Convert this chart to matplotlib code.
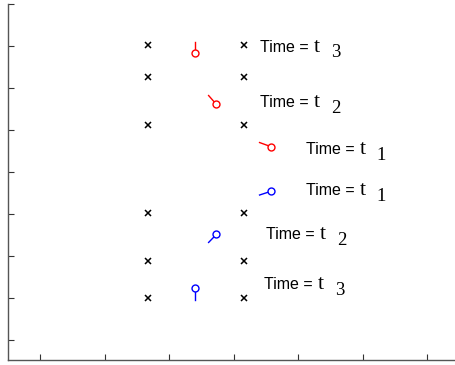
import matplotlib
matplotlib.use("Agg")
import matplotlib.pyplot as plt

# fixed points (black crosses)
cross_x = [2.67, 2.67, 2.67, 2.67, 2.67, 2.67, 4.16, 4.16, 4.16, 4.16, 4.16, 4.16]
cross_y = [8.02, 7.26, 6.12, 4.02, 2.88, 2.00, 8.02, 7.26, 6.12, 4.02, 2.88, 2.00]

# bob positions and the end of the short rod segment
red_x = [3.40, 3.73, 4.58]
red_y = [7.83, 6.61, 5.60]
red_rod_x = [3.40, 3.61, 4.40]
red_rod_y = [8.10, 6.82, 5.70]

blue_x = [4.58, 3.73, 3.40]
blue_y = [4.54, 3.51, 2.23]
blue_rod_x = [4.40, 3.61, 3.40]
blue_rod_y = [4.45, 3.32, 1.95]

# labels
label_x = [4.41, 4.41, 5.12, 5.12, 4.50, 4.47]
label_y = [7.86, 6.54, 5.42, 4.45, 3.40, 2.20]
label_sub = ["3", "2", "1", "1", "2", "3"]

fig = plt.figure(figsize=(4.55, 3.65), dpi=100)
ax = fig.add_axes([8 / 455, 5 / 365, 447 / 455, 356 / 365])

ax.plot(cross_x, cross_y, 'kx', markersize=4, mew=1.1)

for i in range(len(red_x)):
    ax.plot([red_x[i], red_rod_x[i]], [red_y[i], red_rod_y[i]], 'r-', lw=1)
    ax.plot(red_x[i], red_y[i], 'o', mfc='white', mec='r', markersize=5, mew=1)
for i in range(len(blue_x)):
    ax.plot([blue_x[i], blue_rod_x[i]], [blue_y[i], blue_rod_y[i]], 'b-', lw=1)
    ax.plot(blue_x[i], blue_y[i], 'o', mfc='white', mec='b', markersize=5, mew=1)

for x, y, s in zip(label_x, label_y, label_sub):
    ax.text(x, y, "Time =", fontsize=11.5, family="Liberation Sans", ha='left', va='baseline')
    ax.annotate("t", (x, y), xytext=(38.5, 0), textcoords='offset points',
                fontsize=16, family="Liberation Serif", ha='left', va='baseline')
    ax.annotate(s, (x, y), xytext=(51, -4), textcoords='offset points',
                fontsize=13.5, family="Liberation Serif", ha='left', va='baseline')

ax.set_xlim(0.5, 7.43)
ax.set_ylim(0.52, 9)
ax.set_xticks([1, 2, 3, 4, 5, 6, 7])
ax.set_yticks([1, 2, 3, 4, 5, 6, 7, 8, 9])
ax.set_xticklabels([])
ax.set_yticklabels([])
ax.tick_params(direction='in', length=4, width=0.8, color='#333333')
ax.spines['top'].set_visible(False)
ax.spines['right'].set_visible(False)
for sp in ['left', 'bottom']:
    ax.spines[sp].set_color('#555555')
    ax.spines[sp].set_linewidth(1)

fig.savefig("out.png", dpi=100)
